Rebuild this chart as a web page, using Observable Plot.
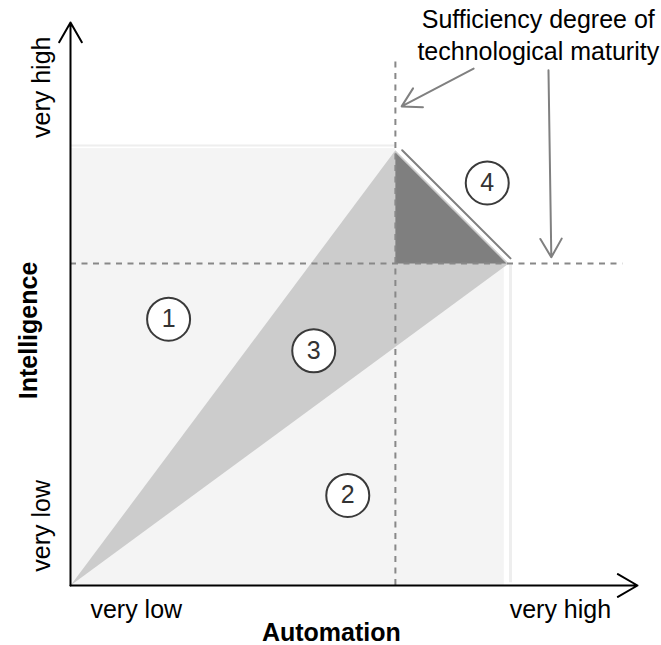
<!DOCTYPE html>
<html>
<head>
<meta charset="utf-8">
<script src="https://cdn.jsdelivr.net/npm/d3@7"></script>
<script src="https://cdn.jsdelivr.net/npm/@observablehq/plot@0.6"></script>
<style>
  html, body { margin: 0; padding: 0; background: #fff; }
  #chart svg { display: block; }
</style>
</head>
<body>
<div id="chart"></div>
<script>
// ---- data (unit scale 0..100 on both axes) ----
const maturityX = 57.3;
const maturityY = 57.2;
const regionRects = [
  {x1: 0, x2: 57.3, y1: 0, y2: 77.6},
  {x1: 57.3, x2: 76.5, y1: 0, y2: 57.2}
];
const triangle3 = [
  {x: 0, y: 0}, {x: 57.3, y: 77.3}, {x: 77.3, y: 57.2}
];
const triangle4 = [
  {x: 57.3, y: 76.9}, {x: 57.3, y: 57.2}, {x: 76.9, y: 57.2}
];
const hypotenuseLine = [
  {x: 58.5, y: 77.3}, {x: 77.6, y: 58.1}
];
const markerLabels = ["1", "2", "3", "4"];
const markerX = [17.3, 48.9, 42.9, 73.5];
const markerY = [47.3, 16.0, 41.7, 71.5];
const xTickLabels = ["very low", "very high"];
const xTickPos = [11.6, 86.4];
const yTickLabels = ["very low", "very high"];
const yTickPos = [10.6, 88.5];
const annotationLines = ["Sufficiency degree of", "technological maturity"];
const annotationY = [100.4, 94.7];
const annotationArrows = [
  {x1: 71.1, y1: 91.8, x2: 58.4, y2: 85.1},
  {x1: 84.3, y1: 91.5, x2: 84.8, y2: 58.3}
];

const markers = markerLabels.map((l, i) => ({label: l, x: markerX[i], y: markerY[i]}));
const xTicks = xTickLabels.map((t, i) => ({t, x: xTickPos[i]}));
const yTicks = yTickLabels.map((t, i) => ({t, y: yTickPos[i]}));
const annot = annotationLines.map((t, i) => ({t, y: annotationY[i]}));

const FS = 25;
const chart = Plot.plot({
  width: 661,
  height: 645,
  marginLeft: 70,
  marginRight: 24,
  marginTop: 22,
  marginBottom: 60,
  x: {domain: [0, 100], axis: null},
  y: {domain: [0, 100], axis: null},
  style: {fontFamily: "'Liberation Sans', Arial, sans-serif", overflow: "visible", background: "#fff"},
  marks: [
    Plot.rect(regionRects, {x1: "x1", x2: "x2", y1: "y1", y2: "y2", fill: "#f4f4f4"}),
    Plot.ruleY([78.15], {x1: 0, x2: maturityX, stroke: "#eeeeee", strokeWidth: 2}),
    Plot.ruleX([77.6], {y1: 0.5, y2: maturityY, stroke: "#eeeeee", strokeWidth: 3}),
    Plot.line(triangle3, {x: "x", y: "y", fill: "#cccccc", stroke: "none"}),
    Plot.line(triangle4, {x: "x", y: "y", fill: "#7f7f7f", stroke: "none"}),
    Plot.line(hypotenuseLine, {x: "x", y: "y", stroke: "#808080", strokeWidth: 2}),
    Plot.ruleX([maturityX], {y1: 0, y2: 93.3, stroke: "#888888", strokeWidth: 2, strokeDasharray: "6,5.5"}),
    Plot.ruleY([maturityY], {x1: 0, x2: 97.4, stroke: "#888888", strokeWidth: 2, strokeDasharray: "6,5.5"}),
    Plot.arrow([{x1: 0, y1: 0, x2: 100, y2: 0}, {x1: 0, y1: 0, x2: 0, y2: 100}],
      {x1: "x1", y1: "y1", x2: "x2", y2: "y2", bend: 0, stroke: "#000", strokeWidth: 2, headLength: 17, headAngle: 60}),
    Plot.arrow(annotationArrows,
      {x1: "x1", y1: "y1", x2: "x2", y2: "y2", bend: 0, stroke: "#808080", strokeWidth: 2, headLength: 16, headAngle: 60}),
    Plot.dot(markers, {x: "x", y: "y", r: 21.5, fill: "#fff", stroke: "#3a3a3a", strokeWidth: 2}),
    Plot.text(markers, {x: "x", y: "y", text: "label", fontSize: 25, fill: "#333"}),
    Plot.text(xTicks, {x: "x", y: -4.4, text: "t", fontSize: FS, fill: "#000"}),
    Plot.text(["Automation"], {x: 46, y: -8.5, text: d => d, fontSize: FS, fontWeight: "bold", fill: "#000"}),
    Plot.text(yTicks, {x: -5.0, y: "y", text: "t", fontSize: FS, rotate: -90, fill: "#000"}),
    Plot.text(["Intelligence"], {x: -7.3, y: 45.3, text: d => d, fontSize: FS, fontWeight: "bold", rotate: -90, fill: "#000"}),
    Plot.text(annot, {x: 82.5, y: "y", text: "t", fontSize: FS, fill: "#000"})
  ]
});
document.getElementById("chart").appendChild(chart);
</script>
</body>
</html>
